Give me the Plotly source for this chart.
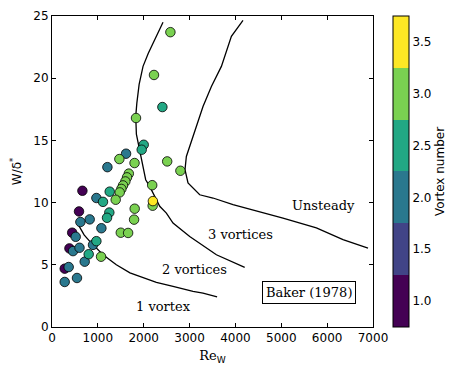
import plotly.graph_objects as go

# measured points: Re_W, W/delta*, vortex number
re_w = [663, 589, 440, 380, 277,
        1208, 1615, 968, 822, 619, 1077, 517, 894, 458, 600, 713, 364, 545, 277,
        2407, 2000, 1956, 1258, 1112, 1250, 1200, 968, 800,
        2582, 2224, 1832, 1469, 1800, 2512, 2800, 1675, 1636, 1600, 1549, 1513,
        1476, 1389, 2185, 2195, 1803, 1790, 1500, 1660, 1070,
        2200]
w_delta = [10.95, 9.29, 7.58, 6.32, 4.69,
           12.85, 13.93, 10.37, 8.65, 8.44, 7.94, 7.25, 6.6, 6.1, 6.37, 5.25, 4.82, 3.94, 3.62,
           17.68, 14.65, 14.25, 10.88, 10.06, 9.2, 8.78, 6.9, 5.85,
           23.7, 20.26, 16.8, 13.5, 13.18, 13.31, 12.56, 12.33, 12.03, 11.7, 11.38, 11.1,
           10.82, 10.23, 11.4, 9.75, 9.51, 8.63, 7.58, 7.56, 5.65,
           10.12]
vortex_number = [1, 1, 1, 1, 1,
                 2, 2, 2, 2, 2, 2, 2, 2, 2, 2, 2, 2, 2, 2,
                 2.5, 2.5, 2.5, 2.5, 2.5, 2.5, 2.5, 2.5, 2.5,
                 3, 3, 3, 3, 3, 3, 3, 3, 3, 3, 3, 3,
                 3, 3, 3, 3, 3, 3, 3, 3, 3,
                 3.5]

# regime boundaries (Baker 1978)
b1_x = [532, 700, 824, 1112, 1403, 1700, 1912, 2276, 2639, 3075, 3293, 3600]
b1_y = [8.49, 7.4, 6.88, 5.81, 5.0, 4.35, 4.07, 3.59, 3.26, 2.86, 2.73, 2.42]
b2_x = [2421, 2240, 2100, 1985, 1900, 1850, 1826, 1840, 1912, 1980, 2043, 2130, 2349, 2494,
        2639, 3003, 3585, 4202]
b2_y = [24.5, 23.1, 22.0, 20.95, 19.5, 18.0, 16.93, 15.5, 14.25, 13.0, 11.84, 11.3, 9.7, 9.16,
        8.36, 7.28, 5.81, 4.79]
b3_x = [4165, 3912, 3694, 3476, 3293, 3148, 3039, 2930, 2900, 2966, 3221, 3511, 3947, 4500,
        5037, 5765, 6346, 6891]
b3_y = [24.65, 23.36, 20.95, 19.34, 17.73, 16.12, 15.06, 13.71, 12.64, 11.58, 10.63, 10.37,
        9.83, 9.3, 8.76, 7.96, 7.02, 6.35]

regime_labels = ['1 vortex', '2 vortices', '3 vortices', 'Unsteady']
regime_x = [2421, 3105, 4121, 5910]
regime_y = [1.66, 4.6, 7.47, 9.75]

band_colors = ['#440154', '#414487', '#2a788e', '#22a884', '#7ad151', '#fde725']
cbar_ticks = [1.0, 1.5, 2.0, 2.5, 3.0, 3.5]

colorscale = []
for i, c in enumerate(band_colors):
    colorscale.append([i / 6, c])
    colorscale.append([(i + 1) / 6, c])

fig = go.Figure()

for bx, by in [(b1_x, b1_y), (b2_x, b2_y), (b3_x, b3_y)]:
    fig.add_trace(go.Scatter(x=bx, y=by, mode='lines', line=dict(color='black', width=1.3),
                             hoverinfo='skip', showlegend=False))

fig.add_trace(go.Scatter(
    x=re_w, y=w_delta, mode='markers', showlegend=False,
    marker=dict(size=9.5, color=vortex_number, colorscale=colorscale, cmin=0.75, cmax=3.75,
                line=dict(color='black', width=0.8),
                colorbar=dict(x=1.062, xanchor='left', xpad=0, ypad=0, thickness=16, len=1.0, y=0.5,
                              outlinecolor='black', outlinewidth=1,
                              tickvals=cbar_ticks, ticktext=[f'{t:.1f}' for t in cbar_ticks],
                              ticks='', tickfont=dict(family='DejaVu Sans', size=12, color='black'),
                              title=dict(text='Vortex number', side='right',
                                         font=dict(family='DejaVu Sans', size=12, color='black'))))))

for txt, x, y in zip(regime_labels, regime_x, regime_y):
    fig.add_annotation(x=x, y=y, text=txt, showarrow=False,
                       font=dict(family='DejaVu Serif', size=13, color='black'))

fig.add_annotation(x=5598, y=2.8, text='Baker (1978)', showarrow=False,
                   font=dict(family='DejaVu Serif', size=13, color='black'),
                   bordercolor='black', borderwidth=1, borderpad=3, bgcolor='white')

axis_style = dict(showline=True, linecolor='black', linewidth=1, mirror='allticks',
                  ticks='inside', ticklen=4, tickcolor='black', showgrid=False, zeroline=False,
                  automargin=False,
                  tickfont=dict(family='DejaVu Sans', size=12, color='black'))

fig.update_xaxes(range=[0, 7000], tickvals=list(range(0, 7001, 1000)),
                 title=dict(text='Re<sub><span style="font-family:DejaVu Sans">W</span></sub>',
                            font=dict(family='DejaVu Serif', size=13, color='black'), standoff=6),
                 **axis_style)
fig.update_yaxes(range=[0, 25], tickvals=list(range(0, 26, 5)),
                 title=dict(text='W/δ<sup>*</sup>', font=dict(family='DejaVu Sans', size=12, color='black'),
                            standoff=15),
                 **axis_style)

# page body has an 8px margin, so the figure is 8px smaller and margins shifted
fig.update_layout(width=459, height=368, margin=dict(l=44, r=94, t=8, b=49, autoexpand=False),
                  plot_bgcolor='white', paper_bgcolor='white')

fig.write_html("out.html")
